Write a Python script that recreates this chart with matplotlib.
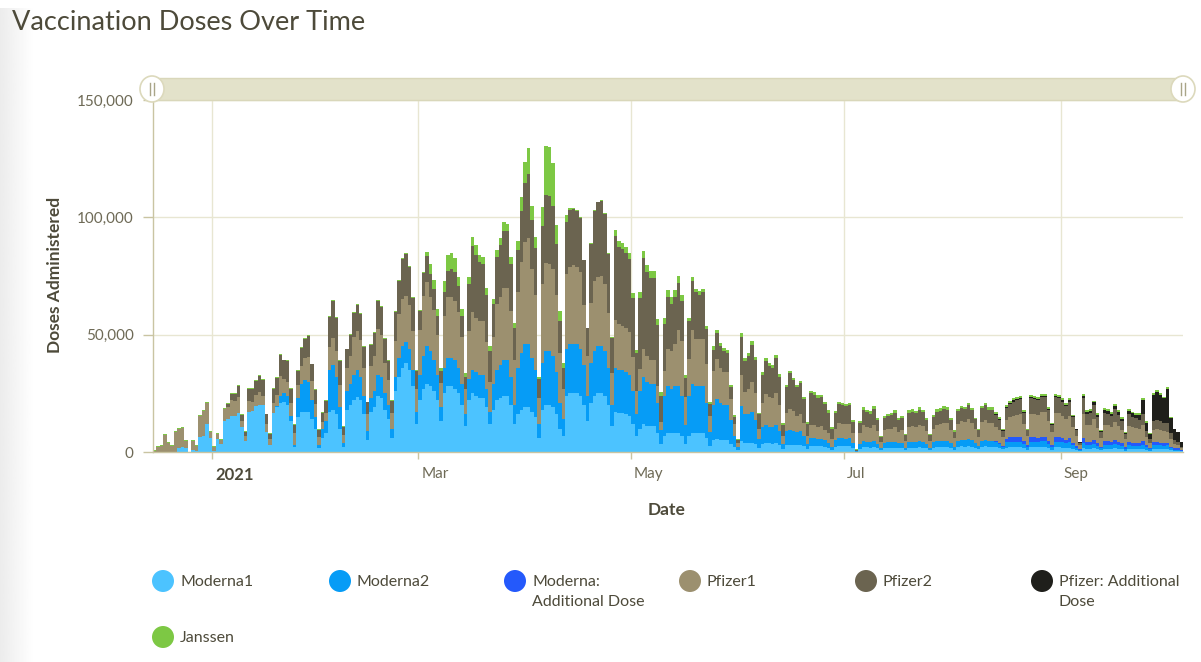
import numpy as np
import pandas as pd
import matplotlib
matplotlib.use('Agg')
from matplotlib import pyplot
from matplotlib.patches import Ellipse, Rectangle
from matplotlib.lines import Line2D
from matplotlib.ticker import FuncFormatter
from matplotlib.transforms import ScaledTranslation

pyplot.rcParams['font.family'] = ['Lato', 'DejaVu Sans']

# daily doses administered, in thousands
# first value is Tue 2020-12-15, then two weeks (Mon..Sun) per line
start_day = '2020-12-15'

moderna1 = [
    0, 0, 0, 0, 0, 0, 0, 1.5, 2.0, 1.5, 0, 1.0, 0.5,
    6.5, 7, 12, 6, 0.5, 5.5, 3.5, 13, 14, 15.5, 15.5, 16.5, 10.5, 4.5,
    17, 17.5, 19.5, 20, 20, 8.5, 3, 16.5, 19, 21, 21.5, 20, 13, 2,
    15, 17, 17, 17, 14, 10, 1.5, 6, 8, 17, 18, 16, 10, 2,
    18, 20, 22, 23.5, 22, 16, 5, 17, 19, 24, 23, 18, 14, 6,
    26, 32, 36, 38, 35, 28, 12, 22, 27, 29, 28, 26, 22, 13,
    25, 28, 28, 27, 25, 20, 11, 22, 25, 24, 23, 23, 19, 12,
    18, 22, 23, 24, 24, 20, 12, 16, 18, 19, 19, 17, 15, 6,
    18, 20, 20, 19, 16, 10, 7, 24, 25, 25, 25, 24, 20, 13,
    21, 24, 25, 25, 24, 20, 11, 17, 16.5, 16.5, 16, 15.5, 12, 7,
    10, 12, 11, 11, 11, 8, 3.5, 7, 8, 8, 8, 8, 7, 3.5,
    7, 8, 8, 8, 8, 6, 2.5, 5, 5.5, 5, 5, 5, 3.5, 2,
    0.8, 4.5, 4, 4, 4, 3.5, 1.5, 3.5, 3.7, 3.7, 3.5, 3.7, 3, 1.2,
    3, 3, 3, 3, 3, 2.5, 1.3, 2.6, 2.6, 2.5, 2.5, 2.3, 1.8, 1,
    2.3, 2.5, 2.5, 2.4, 2.5, 1.6, 0.1, 1.4, 2, 2, 1.9, 2, 1.5, 0.7,
    1.7, 1.8, 1.8, 1.9, 1.6, 1.6, 0.8, 1.8, 1.9, 1.8, 2, 1.9, 1.5, 0.8,
    1.8, 2, 2, 2.1, 2.1, 1.6, 1, 2.2, 2.4, 2.3, 2.5, 2.3, 1.8, 1.2,
    2.2, 2.4, 2.2, 2.2, 2, 1.6, 1.1, 1.9, 2, 2, 2, 2, 1.5, 0.9,
    2, 2, 2, 2.1, 2.1, 1.6, 1, 2, 2, 1.9, 1.7, 1.9, 1.3, 0.8,
    0.4, 1.8, 1.3, 1.3, 1.6, 1.2, 0.7, 1.4, 1.4, 1.3, 1.5, 1.3, 1.1, 0.6,
    1.3, 1.2, 1.2, 1.2, 1.4, 0.9, 0.5, 1.4, 1.4, 1.4, 1.3, 1.4, 0.8, 0.5,
    0.5, 0.3,
]

# second doses start on Mon 2021-01-18
moderna2 = [0] * 34 + [
    0, 0.5, 3, 3.5, 4, 2.5, 1, 8, 12, 13.5, 13, 8, 5, 1.5,
    4, 5, 18, 19, 16, 9, 2, 8, 9, 11, 11.5, 10, 8, 4,
    6, 7, 9, 9, 7, 6, 4, 6, 8, 9, 9, 9, 7, 5,
    11, 14, 16, 15, 13, 11, 6, 11, 12, 12, 12, 11, 9, 5,
    9, 10, 10, 10, 10, 8, 5, 11, 13, 14, 15, 15, 12, 8,
    20, 24, 27, 27, 23, 20, 6, 20, 23, 23, 22, 18, 11, 7,
    20, 21, 21, 21, 20, 17, 11, 17, 19, 20, 20, 19, 16, 9,
    19, 18.5, 18.5, 18, 17.5, 14, 9, 16, 20, 19, 18, 18, 13, 6,
    17, 20, 19, 20, 20, 17, 8, 17, 21, 20, 20, 20, 15, 6,
    15, 17, 16, 15, 15, 10, 5, 1.5, 15, 12, 12, 13, 10, 4,
    7, 8, 7, 7, 8, 6, 2, 6, 6.5, 6, 5.5, 6, 4.5, 2,
    3.3, 3.2, 3, 3, 2.8, 2.2, 1.2, 3, 3.3, 3.3, 3.2, 3.3, 2.2, 0.2,
    2, 2.5, 2.4, 2.3, 2.5, 2, 1, 2.2, 2.3, 2.3, 2.4, 2.1, 2.1, 1.1,
    2.4, 2.5, 2.4, 2.6, 2.5, 2, 1.1, 2.3, 2.6, 2.7, 2.8, 2.8, 2.1, 1.3,
    2.6, 2.8, 2.8, 3, 2.7, 2.1, 1.4, 2.5, 2.7, 2.4, 2.4, 2.2, 1.8, 1.2,
    2.2, 2.4, 2.4, 2.4, 2.4, 1.8, 1.1, 2.4, 2.4, 2.3, 2.5, 2.5, 1.9, 1.2,
    2.4, 2.4, 2.2, 2, 2.2, 1.5, 1, 0.5, 2.2, 1.6, 1.6, 1.9, 1.4, 0.8,
    1.7, 1.7, 1.6, 1.9, 1.7, 1.4, 0.8, 1.6, 1.5, 1.4, 1.4, 1.7, 1.1, 0.7,
    1.5, 1.5, 1.4, 1.3, 1.4, 0.8, 0.5, 0.5, 0.3,
]

# additional doses start on Fri 2021-08-13
moderna_add = [0] * 241 + [
    0.3, 0.4, 0.3,
    1.5, 1.8, 2, 2, 2, 1.5, 0.8, 1.8, 1.8, 1.8, 1.9, 1.9, 1.4, 0.9,
    1.8, 1.8, 1.7, 1.5, 1.7, 1.2, 0.7, 0.4, 1.8, 1.4, 1.4, 1.6, 1.2, 0.7,
    1.5, 1.5, 1.4, 1.6, 1.4, 1.2, 0.7, 1.4, 1.3, 1.3, 1.3, 1.4, 1, 0.6,
    1.2, 1.2, 1.2, 1.1, 1.2, 0.7, 0.5, 0.5, 0.3,
]

pfizer1 = [
    0.5, 2.2, 2.7, 7.2, 3.7, 2.7, 8.7, 8.2, 8.3, 3.2, 0, 3.7, 2.2,
    8.8, 10.5, 8.7, 2.7, 1.7, 2.2, 1.7, 5.5, 5.3, 6.6, 6.2, 7.1, 2.7, 2.5,
    4.7, 3.7, 4.7, 5.4, 4, 3.5, 2.5, 4.2, 4.9, 8.3, 6, 5.7, 5.2, 5.2,
    5.7, 7.7, 9.5, 10.4, 8.3, 5.3, 3.2, 2.7, 3.7, 9.7, 11.5, 11.1, 9.7, 3.2,
    9.7, 11.7, 16.1, 16.7, 15.7, 11.7, 7.1, 13.7, 14.7, 19.5, 17.7, 13.1, 10.7, 6.7,
    15.5, 18.7, 20.2, 19.4, 18.7, 16.7, 9.7, 19.2, 25.3, 27.4, 23, 21.3, 17, 10.5,
    22, 26, 26, 25.5, 23.7, 20, 11, 20.7, 24.8, 23, 23, 23, 20, 13,
    20, 28, 29, 31, 31, 28, 19, 32, 38.8, 43.7, 45.4, 38, 31.8, 11,
    33.5, 37.4, 37, 37, 32.7, 21, 13, 32, 33, 33.7, 32.7, 32.7, 25.7, 16.7,
    25.7, 29.7, 29.4, 30.1, 28.4, 23.4, 13.7, 20.1, 19.5, 18.5, 19, 18.2, 14.6, 10,
    9.5, 11.8, 10.7, 10, 10, 7.3, 3.4, 10.5, 16, 16, 18, 24, 23.5, 12,
    15.7, 23, 20, 20, 20, 16.5, 6.9, 14.6, 17.2, 15, 14, 14, 9, 4.8,
    1.5, 13.5, 9.6, 10.8, 12.7, 11.5, 4.5, 10.5, 12.9, 12.8, 12.3, 13.3, 11, 3.8,
    7.5, 9, 8.5, 7, 7.2, 5.5, 3.7, 5.8, 5.7, 5.2, 5.5, 4.4, 4.3, 3.3,
    4.7, 6.6, 6.3, 6.4, 6.3, 4.1, 0.3, 4.5, 6.8, 6.4, 6.2, 7, 5.3, 2.5,
    5.3, 5.7, 5.9, 6.3, 5, 5.5, 2.8, 6.6, 6.6, 6.4, 7, 6.6, 5.3, 2.8,
    5.9, 7, 7.2, 7.6, 7.3, 5.6, 3.5, 7.3, 7.8, 7.6, 8.4, 7.5, 5.8, 3.8,
    8.2, 8.7, 7.8, 7.8, 6.3, 5.5, 3.6, 8, 8.8, 9.1, 9.4, 9.7, 7.2, 3.9,
    10.2, 9.9, 9.8, 10.4, 10.4, 8.1, 5.3, 10.6, 10.3, 9.6, 9, 9.7, 6.7, 4.2,
    1.5, 10.2, 7, 7.2, 8.8, 6.6, 3.7, 7, 6.7, 6.3, 7.7, 6.7, 5.5, 3.3,
    6.9, 6.5, 6.2, 5.9, 6.8, 3.2, 2.2, 5.3, 5.5, 5.4, 5.1, 4.7, 3.3, 2.1,
    1.5, 0.6,
]

# second doses start on Tue 2021-01-05
pfizer2 = [0] * 21 + [
    1, 2.5, 3, 4.5, 2.5, 1.5,
    5, 5.5, 6, 7, 6.5, 4, 2, 6, 7, 9, 8, 9, 6, 3.5,
    6, 7.5, 8, 9, 7, 6, 3, 4, 5, 13, 16, 14, 10, 3.5,
    8, 9, 10, 11, 11, 9, 5, 9, 10, 12, 12, 10, 8, 5,
    12, 14, 17, 18, 16, 14, 8, 8, 10, 11, 10, 9, 8, 5,
    10, 11, 12, 12, 11, 9, 5, 20, 28, 27, 25, 24, 20, 13,
    14, 20, 22, 24, 24, 20, 14, 18, 22, 25, 27, 21, 20, 8,
    25, 29, 29, 27, 22, 14, 9, 22, 24, 24, 24, 23, 19, 12,
    25, 30, 32, 32, 30, 25, 15, 36, 33, 33, 32, 31, 25, 16,
    30, 39, 36, 35, 35, 26, 11, 20, 22, 20, 20, 20, 17, 8,
    16, 21, 20, 19, 20, 15, 5, 9, 11, 9, 9, 8, 5, 3,
    1.5, 16, 13, 14, 16, 14, 6, 12, 14, 13, 13, 15, 12, 4.5,
    11, 15, 13, 12, 13, 10, 5, 13.5, 13, 12.5, 12.5, 11, 8.5, 4.5,
    6.5, 8, 7.8, 7.5, 7.8, 5, 0.3, 4.5, 6.8, 6.3, 6, 7, 5, 2.3,
    5.3, 5.6, 5.8, 6.2, 5, 5.3, 2.6, 6, 6.2, 5.9, 6.5, 6.1, 5, 2.6,
    4.8, 5.6, 5.7, 6, 5.9, 4.5, 2.8, 5.2, 5.6, 5.5, 6, 5.4, 4.2, 2.8,
    5.8, 6.2, 5.6, 5.6, 5, 4.4, 2.9, 5, 5.5, 6, 6.2, 6.4, 4.8, 2.6,
    6.4, 6.3, 6.2, 6.6, 6.6, 5.1, 3.3, 6.6, 6.5, 6, 5.5, 6, 4.1, 2.6,
    1.2, 7, 5, 5.1, 6.2, 4.6, 2.6, 5, 4.9, 4.6, 5.6, 4.8, 4, 2.3,
    4.8, 4.5, 4.2, 4, 4.8, 2.8, 1.7, 3.8, 4, 3.8, 3.6, 3.6, 2.4, 1.6,
    1.4, 0.7,
]

pfizer_add = [0] * 241 + [
    0.2, 0.3, 0.2,
    0.4, 0.5, 0.5, 0.5, 0.5, 0.4, 0.2, 0.5, 0.5, 0.5, 0.5, 0.5, 0.4, 0.3,
    0.6, 0.6, 0.6, 0.5, 0.6, 0.4, 0.3, 0.2, 1, 0.8, 0.8, 1, 0.8, 0.5,
    1.2, 1.2, 1.2, 1.5, 1.3, 1, 0.6, 1.5, 1.5, 1.5, 2, 6, 3.5, 2,
    11, 12, 11, 10.5, 14.5, 6.5, 4.5, 4, 2,
]

# small trickle until 2021-03-01 (nothing on Christmas day)
janssen = [0.4] * 10 + [0] + [0.4] * 65 + [
    0.3, 0.5, 2, 4, 4, 3, 1.5, 5, 7, 7, 6, 4, 3, 1.5,
    3, 4, 4, 3, 3, 3, 2, 2, 3, 3, 4, 3, 3, 2,
    4, 6, 9, 11, 6, 5, 1, 8, 21, 21, 18, 8, 4, 2,
    3, 1, 0.3, 0.3, 0.3, 0.3, 0.3, 0.3, 0.3, 0.3, 0.3, 0.3, 0.3, 0.3,
    2.5, 2.5, 2.5, 2.5, 2.5, 2, 1.5, 2.5, 3, 3, 3, 3, 2.5, 1.5,
    2.5, 3, 3, 3, 3, 2.5, 1.5, 1.5, 1.5, 1.5, 1.5, 1.5, 1.2, 0.8,
    1.5, 1.5, 1.5, 1.5, 1.5, 1.2, 0.8, 0.4, 1.5, 1.5, 1.5, 1.5, 1.5, 0.8,
    1.3, 1.3, 1.3, 1.3, 1.3, 1.3, 0.8, 1.1, 1.1, 1.1, 1.1, 1.1, 1.1, 0.7,
    1, 1, 1, 1, 1, 0.9, 0.6, 1, 1, 1, 1, 1, 0.7, 0.2,
    0.8, 1, 1, 1, 1, 0.9, 0.5, 0.9, 1, 1, 1, 0.9, 0.9, 0.5,
    1, 1, 1, 1, 1, 0.9, 0.5, 0.9, 1, 1, 1, 1, 0.9, 0.6,
    1, 1, 1, 1, 1, 0.8, 0.6, 1, 1, 1, 1, 0.9, 0.8, 0.5,
    0.9, 0.9, 0.9, 0.9, 0.9, 0.7, 0.5, 0.9, 0.9, 0.9, 0.9, 0.9, 0.7, 0.5,
    0.9, 0.9, 0.8, 0.8, 0.8, 0.6, 0.4, 0.2, 0.9, 0.8, 0.8, 0.8, 0.7, 0.4,
    0.8, 0.8, 0.8, 0.8, 0.8, 0.6, 0.4, 0.7, 0.7, 0.7, 0.7, 0.8, 0.5, 0.3,
    0.8, 0.8, 0.8, 0.7, 0.8, 0.5, 0.3, 0.3, 0.2,
]

series = [moderna1, moderna2, moderna_add, pfizer1, pfizer2, pfizer_add, janssen]
names = ['Moderna1', 'Moderna2', 'Moderna:\nAdditional Dose', 'Pfizer1', 'Pfizer2',
         'Pfizer: Additional\nDose', 'Janssen']
colors = ['#4cc3ff', '#069cf6', '#2459fb', '#9c906f', '#6b6450', '#1f1f1b', '#7dc844']

ytick_vals = [0, 50000, 100000, 150000]
xtick_dates = ['2021-01-01', '2021-03-01', '2021-05-01', '2021-07-01', '2021-09-01']
xtick_labels = ['2021', 'Mar', 'May', 'Jul', 'Sep']

for s in series:
    assert len(s) == len(moderna1), len(s)

W, H = 1201, 662
fig = pyplot.figure(figsize=(W / 100, H / 100), dpi=100)

def fx(px):
    return px / W

def fy(py):
    return 1 - py / H

text_col = '#4d4a3a'
tick_col = '#6e6a56'
grid_col = '#e8e6d2'
axis_col = '#c9c4a2'

# faint shadow strip on the left edge
bg = fig.add_axes([0, 0, fx(34), fy(8)], zorder=-5)
bg.imshow(np.linspace(0.925, 1.0, 64)[None, :], cmap='gray', vmin=0, vmax=1,
          aspect='auto', extent=[0, 1, 0, 1])
bg.axis('off')

ax = fig.add_axes([fx(153), fy(452), fx(1183) - fx(153), fy(100) - fy(452)])
days = pd.date_range(start_day, periods=len(moderna1), freq='D')
bottom = np.zeros(len(days))
for vals, c in zip(series, colors):
    v = np.array(vals, dtype=float) * 1000
    ax.bar(days, v, width=1.0, align='edge', bottom=bottom, color=c,
           linewidth=0, antialiased=False)
    bottom += v

ax.set_xlim(pd.Timestamp('2020-12-15'), pd.Timestamp('2021-10-06'))
ax.set_ylim(0, 150000)
ax.set_yticks(ytick_vals)
ax.yaxis.set_major_formatter(FuncFormatter(lambda v, p: '{:,.0f}'.format(v)))
ax.set_xticks(pd.to_datetime(xtick_dates))
ax.set_xticklabels(xtick_labels)

ax.grid(True, color=grid_col, linewidth=1)
ax.set_axisbelow(True)
for side in ('top', 'right'):
    ax.spines[side].set_visible(False)
for side in ('left', 'bottom'):
    ax.spines[side].set_color(axis_col)
    ax.spines[side].set_linewidth(1)

ax.tick_params(axis='y', length=7, width=1, color=axis_col, pad=7,
               labelsize=11, labelcolor=tick_col)
ax.tick_params(axis='x', length=5, width=1, color=axis_col, pad=6,
               labelsize=11, labelcolor=tick_col)
offset = ScaledTranslation(2 / 72, 0, fig.dpi_scale_trans)
for lbl in ax.get_xticklabels():
    lbl.set_horizontalalignment('left')
    lbl.set_transform(lbl.get_transform() + offset)
ax.get_xticklabels()[0].set_fontweight('bold')
ax.get_xticklabels()[0].set_fontsize(12)
ax.get_xticklabels()[0].set_color(text_col)

fig.text(fx(55), fy(275), 'Doses Administered', rotation=90, ha='center',
         va='center', fontsize=12.5, fontweight='bold', color=text_col)
fig.text(fx(667), fy(510), 'Date', ha='center', va='center', fontsize=12.5,
         fontweight='bold', color=text_col)
fig.text(fx(12), fy(23), 'Vaccination Doses Over Time', ha='left', va='center',
         fontsize=19.5, color=text_col)

# range slider above the plot
fig.add_artist(Rectangle((fx(153), fy(100)), fx(1183) - fx(153), fy(78) - fy(100),
                         transform=fig.transFigure, facecolor='#e3e2ca',
                         edgecolor='#d9d7ba', linewidth=1))
for hx in (152, 1183):
    fig.add_artist(Ellipse((fx(hx), fy(89)), 24 / W, 26 / H, transform=fig.transFigure,
                           facecolor='white', edgecolor='#dcd9bc', linewidth=1.2))
    for dx in (-2, 2):
        fig.add_artist(Line2D([fx(hx + dx)] * 2, [fy(83), fy(95)],
                              transform=fig.transFigure, color='#a9a588', linewidth=1))

# legend
legend_pos = [(163, 581), (340, 581), (515, 581), (690, 581), (866, 581),
              (1042, 581), (163, 637)]
for (px, py), name, c in zip(legend_pos, names, colors):
    fig.add_artist(Ellipse((fx(px), fy(py)), 22 / W, 22 / H, transform=fig.transFigure,
                           facecolor=c, edgecolor='none'))
    fig.text(fx(px + 17), fy(py - 6), name, ha='left', va='top', fontsize=11.5,
             color=text_col, linespacing=1.5)

fig.savefig('out.png', dpi=100)
